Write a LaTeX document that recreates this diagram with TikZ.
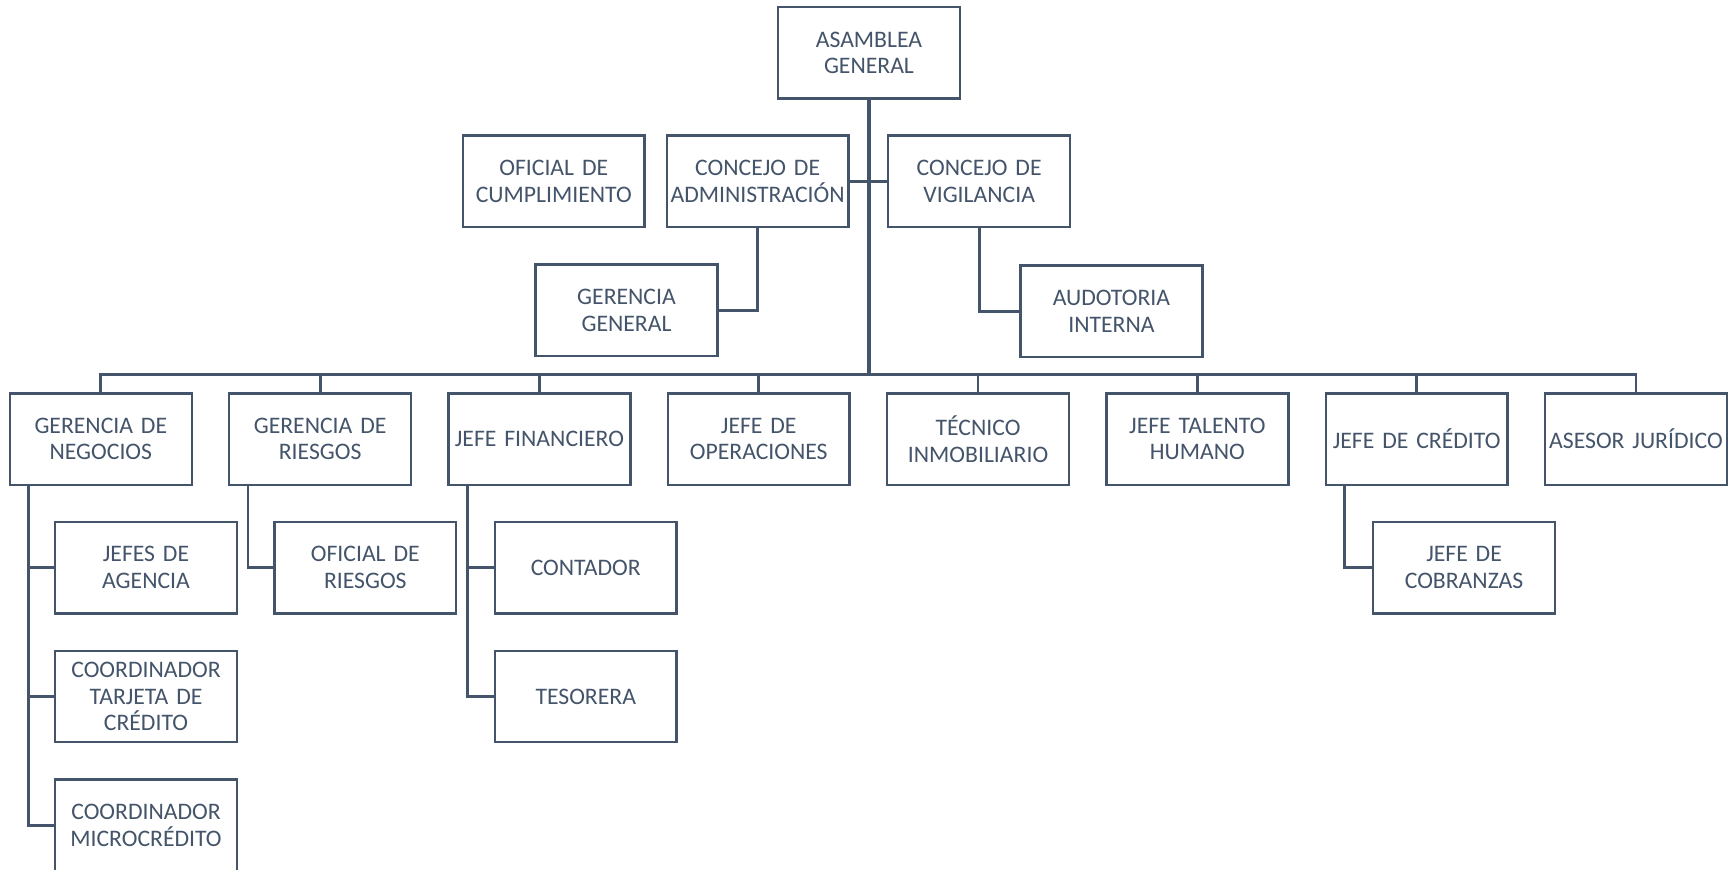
\documentclass[tikz,border=0pt]{standalone}
\usepackage{fontspec}
\setmainfont{Carlito}
\usepackage{tikz}
\usetikzlibrary{calc,positioning}
\definecolor{slate}{RGB}{68,84,106}
\tikzstyle{unit}=[draw=slate,line width=2.2pt,text=slate,fill=white,minimum width=165pt,minimum height=83pt,text width=160pt,inner sep=2pt,outer sep=0pt,align=center,font=\fontsize{21.5}{24}\selectfont]
\tikzstyle{link}=[draw=slate,line width=2.5pt]

\begin{document}
\begin{tikzpicture}[x=1pt,y=1pt]
		\useasboundingbox (0,0) rectangle (1568,-789);
		% top
		\node(asam)[unit] at (788.5,-48) {ASAMBLEA\\GENERAL};
		\node(ofcum)[unit] at (502.5,-164.5) {OFICIAL DE\\CUMPLIMIENTO};
		\node(admin)[unit] at (687.5,-164.5) {CONCEJO DE\\ADMINISTRACIÓN};
		\node(vigil)[unit] at (888.5,-164.5) {CONCEJO DE\\VIGILANCIA};
		\node(gergen)[unit] at (568.5,-281.5) {GERENCIA\\GENERAL};
		\node(audit)[unit] at (1008.5,-282.5) {AUDOTORIA\\INTERNA};
		\coordinate(hub) at (788.5,-340);
		% second level
		\node(neg)[unit] at (91.5,-398.5) {GERENCIA DE\\NEGOCIOS};
		\node(rie)[unit,right=34pt of neg] {GERENCIA DE\\RIESGOS};
		\node(fin)[unit,right=34pt of rie] {JEFE FINANCIERO};
		\node(ope)[unit,right=34pt of fin] {JEFE DE\\OPERACIONES};
		\node(tec)[unit,right=34pt of ope] {TÉCNICO\\INMOBILIARIO};
		\node(tal)[unit,right=34pt of tec] {JEFE TALENTO\\HUMANO};
		\node(cre)[unit,right=34pt of tal] {JEFE DE CRÉDITO};
		\node(jur)[unit,right=34pt of cre] {ASESOR JURÍDICO};
		% third level
		\node(agen)[unit] at (132.5,-515) {JEFES DE\\AGENCIA};
		\node(tarj)[unit] at (132.5,-632) {COORDINADOR\\TARJETA DE\\CRÉDITO};
		\node(micro)[unit] at (132.5,-749) {COORDINADOR\\MICROCRÉDITO};
		\node(ofrie)[unit] at (331.5,-515) {OFICIAL DE\\RIESGOS};
		\node(cont)[unit] at (531.5,-515) {CONTADOR};
		\node(teso)[unit] at (531.5,-632) {TESORERA};
		\node(cobr)[unit] at (1328.5,-515) {JEFE DE\\COBRANZAS};

		\draw[link,line width=3pt] (asam.south) -- (hub);
		\draw[link] (admin.east) -- (vigil.west);
		\draw[link] (admin.south) |- (gergen.east);
		\draw[link] (vigil.south) |- (audit.west);
		\foreach \n in {neg,rie,fin,ope,tec,tal,cre,jur}
			\draw[link] (hub) -| (\n.north);
		\draw[link] ([xshift=17pt]neg.south west) |- (agen.west);
		\draw[link] ([xshift=17pt]neg.south west) |- (tarj.west);
		\draw[link] ([xshift=17pt]neg.south west) |- (micro.west);
		\draw[link] ([xshift=17pt]rie.south west) |- (ofrie.west);
		\draw[link] ([xshift=17pt]fin.south west) |- (cont.west);
		\draw[link] ([xshift=17pt]fin.south west) |- (teso.west);
		\draw[link] ([xshift=17pt]cre.south west) |- (cobr.west);
\end{tikzpicture}
\end{document}
